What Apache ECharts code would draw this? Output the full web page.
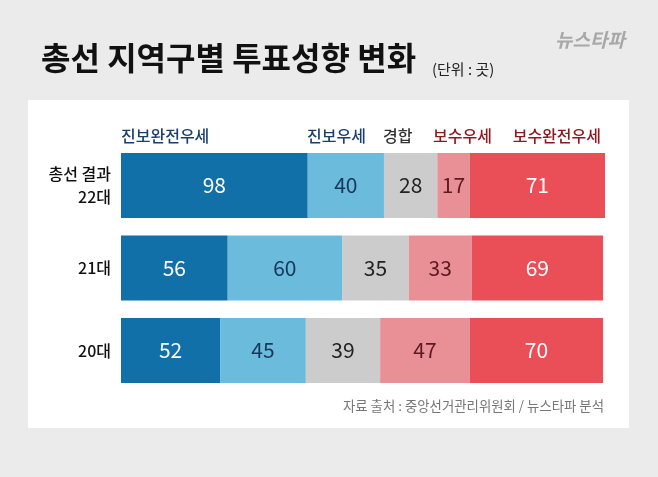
<!DOCTYPE html>
<html>
<head>
<meta charset="utf-8">
<script src="https://cdn.jsdelivr.net/npm/echarts@6/dist/echarts.min.js"></script>
<style>
html,body{margin:0;padding:0;background:#ebebeb;}
#chart{width:658px;height:477px;}
</style>
</head>
<body>
<div id="chart"></div>
<script>
var categories = ['총선 결과\n22대', '21대', '20대'];
var seriesNames = ['진보완전우세', '진보우세', '경합', '보수우세', '보수완전우세'];
var strongProg = [98, 56, 52];
var leanProg = [40, 60, 45];
var tossup = [28, 35, 39];
var leanCons = [17, 33, 47];
var strongCons = [71, 69, 70];
var totalMax = 254;

var FONT = '"Noto Sans CJK KR", "Noto Sans", sans-serif';
var barColors = ['#1170a8', '#6abbdc', '#cccccc', '#e89096', '#ea4e56'];
var labelColors = ['#ffffff', '#17375a', '#222222', '#5b1a1f', '#ffffff'];
var values = [strongProg, leanProg, tossup, leanCons, strongCons];

var chart = echarts.init(document.getElementById('chart'), null, {renderer: 'canvas'});

var series = values.map(function (arr, i) {
  return {
    name: seriesNames[i],
    type: 'bar',
    stack: 'total',
    barWidth: 65,
    data: arr,
    itemStyle: {color: barColors[i]},
    label: {
      show: true,
      position: 'inside',
      color: labelColors[i],
      fontSize: 21,
      fontFamily: FONT,
      fontWeight: 'normal'
    },
    emphasis: {disabled: true}
  };
});

var option = {
  backgroundColor: '#ebebeb',
  animation: false,
  grid: {left: 121, right: 53, top: 144.25, bottom: 85.25, containLabel: false},
  xAxis: {
    type: 'value', min: 0, max: totalMax,
    show: false
  },
  yAxis: {
    type: 'category',
    data: categories,
    inverse: true,
    axisLine: {show: false},
    axisTick: {show: false},
    splitLine: {show: false},
    axisLabel: {
      color: '#111',
      fontSize: 16,
      fontFamily: FONT,
      fontWeight: 500,
      lineHeight: 23,
      align: 'right',
      margin: 10
    }
  },
  series: series,
  graphic: [
    {type: 'rect', z: -10, shape: {x: 28, y: 100, width: 601, height: 328}, style: {fill: '#ffffff'}},
    {type: 'text', x: 41, y: 58, style: {text: '총선 지역구별 투표성향 변화', font: 'bold 32px ' + FONT, fill: '#111', textVerticalAlign: 'middle'}},
    {type: 'text', x: 432, y: 69.5, style: {text: '(단위 : 곳)', font: '15px ' + FONT, fill: '#222', textVerticalAlign: 'middle'}},
    {type: 'text', x: 555, y: 40, style: {text: '뉴스타파', font: 'italic bold 19px ' + FONT, fill: '#a8a8a8', textVerticalAlign: 'middle'}},
    {type: 'text', x: 121, y: 136, style: {text: '진보완전우세', font: '500 16px ' + FONT, fill: '#1b3f6c', textVerticalAlign: 'middle'}},
    {type: 'text', x: 307, y: 136, style: {text: '진보우세', font: '500 16px ' + FONT, fill: '#1b3f6c', textVerticalAlign: 'middle'}},
    {type: 'text', x: 383, y: 136, style: {text: '경합', font: '500 16px ' + FONT, fill: '#333333', textVerticalAlign: 'middle'}},
    {type: 'text', x: 433, y: 136, style: {text: '보수우세', font: '500 16px ' + FONT, fill: '#8a1a22', textVerticalAlign: 'middle'}},
    {type: 'text', x: 601, y: 136, style: {text: '보수완전우세', font: '500 16px ' + FONT, fill: '#8a1a22', textVerticalAlign: 'middle', textAlign: 'right'}},
    {type: 'text', x: 604, y: 406, style: {text: '자료 출처 : 중앙선거관리위원회 / 뉴스타파 분석', font: '13.4px ' + FONT, fill: '#777777', textVerticalAlign: 'middle', textAlign: 'right'}}
  ]
};
chart.setOption(option);
</script>
</body>
</html>
